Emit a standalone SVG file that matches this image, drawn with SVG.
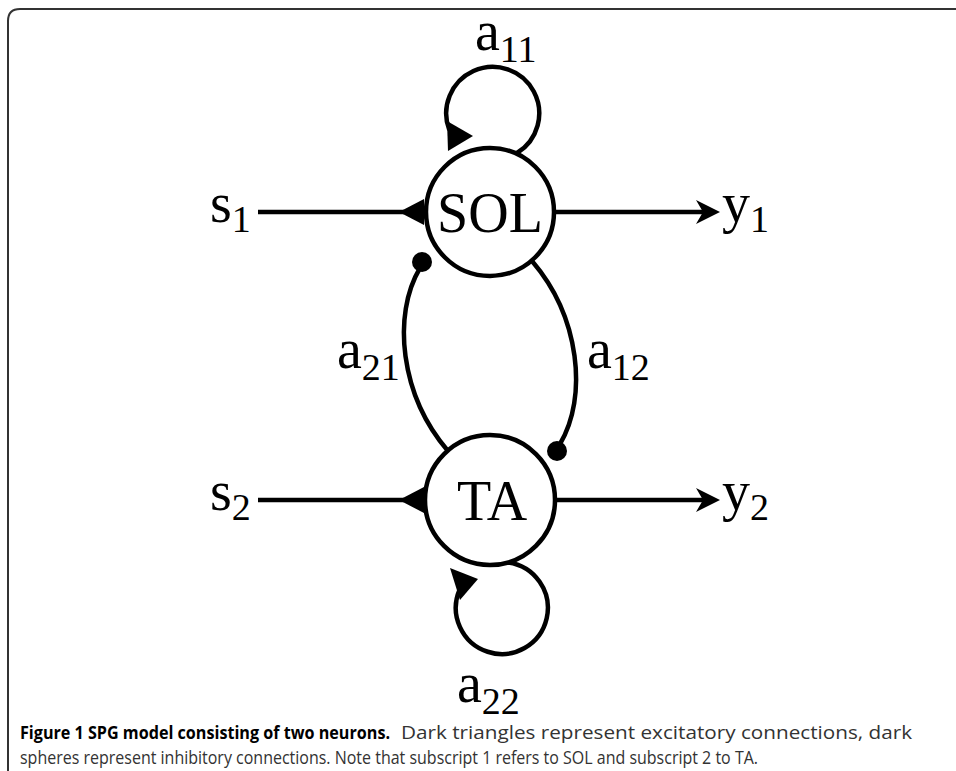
<svg xmlns="http://www.w3.org/2000/svg" width="956" height="771" viewBox="0 0 956 771">
<defs>
<style>
.edge{fill:none;stroke:#000;stroke-width:4.5;stroke-linecap:butt}
.node{fill:#fff;stroke:#000;stroke-width:4.5}
.head{fill:#000;stroke:none}
.lbl{font-family:"Liberation Serif","Times New Roman",serif;font-size:56px;fill:#000}
.sub{font-family:"Liberation Serif","Times New Roman",serif;font-size:38px;fill:#000}
.cap{font-family:"Open Sans","Noto Sans",sans-serif;font-size:18px;fill:#333}
.capb{font-family:"Open Sans","Noto Sans",sans-serif;font-size:18px;font-weight:bold;fill:#000}
</style>
</defs>
<rect width="956" height="771" fill="#fff"/>
<path d="M 8 771 V 21 Q 8 9 20 9 H 956" fill="none" stroke="#333" stroke-width="2"/>
<g id="connectors">
  <line class="edge" x1="258" y1="212" x2="404" y2="212"/>
  <polygon class="head" points="399,212 424,199 424,225"/>
  <line class="edge" x1="554" y1="212" x2="710" y2="212"/>
  <polygon class="head" points="720,212 696,200 703,212 696,224"/>
  <line class="edge" x1="258" y1="500" x2="404" y2="500"/>
  <polygon class="head" points="399,500 424,487 424,513"/>
  <line class="edge" x1="555" y1="500" x2="710" y2="500"/>
  <polygon class="head" points="720,500 696,488 703,500 696,512"/>
  <path class="edge" d="M 517 153 A 46.5 46.5 0 1 0 449.3 130"/>
  <polygon class="head" points="447,121 473,136 448,151"/>
  <path class="edge" d="M 459.5 590 A 46 46 0 1 0 508 562.4"/>
  <polygon class="head" points="450,568 478,579 460,600"/>
  <path class="edge" d="M 448 451 C 400 395, 392 315, 420 268"/>
  <circle class="head" cx="422" cy="262" r="10"/>
  <path class="edge" d="M 532 261 C 580 317, 588 397, 560 444"/>
  <circle class="head" cx="557" cy="451" r="10"/>
</g>
<g id="SOL">
  <circle class="node" cx="490" cy="212" r="64"/>
  <text class="lbl" x="490" y="232" text-anchor="middle">SOL</text>
</g>
<g id="TA">
  <circle class="node" cx="490" cy="500" r="65"/>
  <text class="lbl" x="492" y="520" text-anchor="middle">TA</text>
</g>
<g id="labels">
  <text x="210" y="222"><tspan class="lbl">s</tspan><tspan class="sub" dy="10">1</tspan></text>
  <text x="210" y="510"><tspan class="lbl">s</tspan><tspan class="sub" dy="10">2</tspan></text>
  <text x="722" y="222"><tspan class="lbl">y</tspan><tspan class="sub" dy="10">1</tspan></text>
  <text x="722" y="510"><tspan class="lbl">y</tspan><tspan class="sub" dy="10">2</tspan></text>
  <text x="475" y="50"><tspan class="lbl">a</tspan><tspan class="sub" dy="12">11</tspan></text>
  <text x="337" y="368"><tspan class="lbl">a</tspan><tspan class="sub" dy="12">21</tspan></text>
  <text x="587" y="368"><tspan class="lbl">a</tspan><tspan class="sub" dy="12">12</tspan></text>
  <text x="457" y="702"><tspan class="lbl">a</tspan><tspan class="sub" dy="12">22</tspan></text>
</g>
<g id="caption">
  <text class="capb" x="20" y="739" textLength="370" lengthAdjust="spacingAndGlyphs">Figure 1 SPG model consisting of two neurons.</text>
  <text class="cap" x="401" y="739" textLength="511" lengthAdjust="spacingAndGlyphs">Dark triangles represent excitatory connections, dark</text>
  <text class="cap" x="20" y="764" textLength="738" lengthAdjust="spacingAndGlyphs">spheres represent inhibitory connections. Note that subscript 1 refers to SOL and subscript 2 to TA.</text>
</g>
</svg>
